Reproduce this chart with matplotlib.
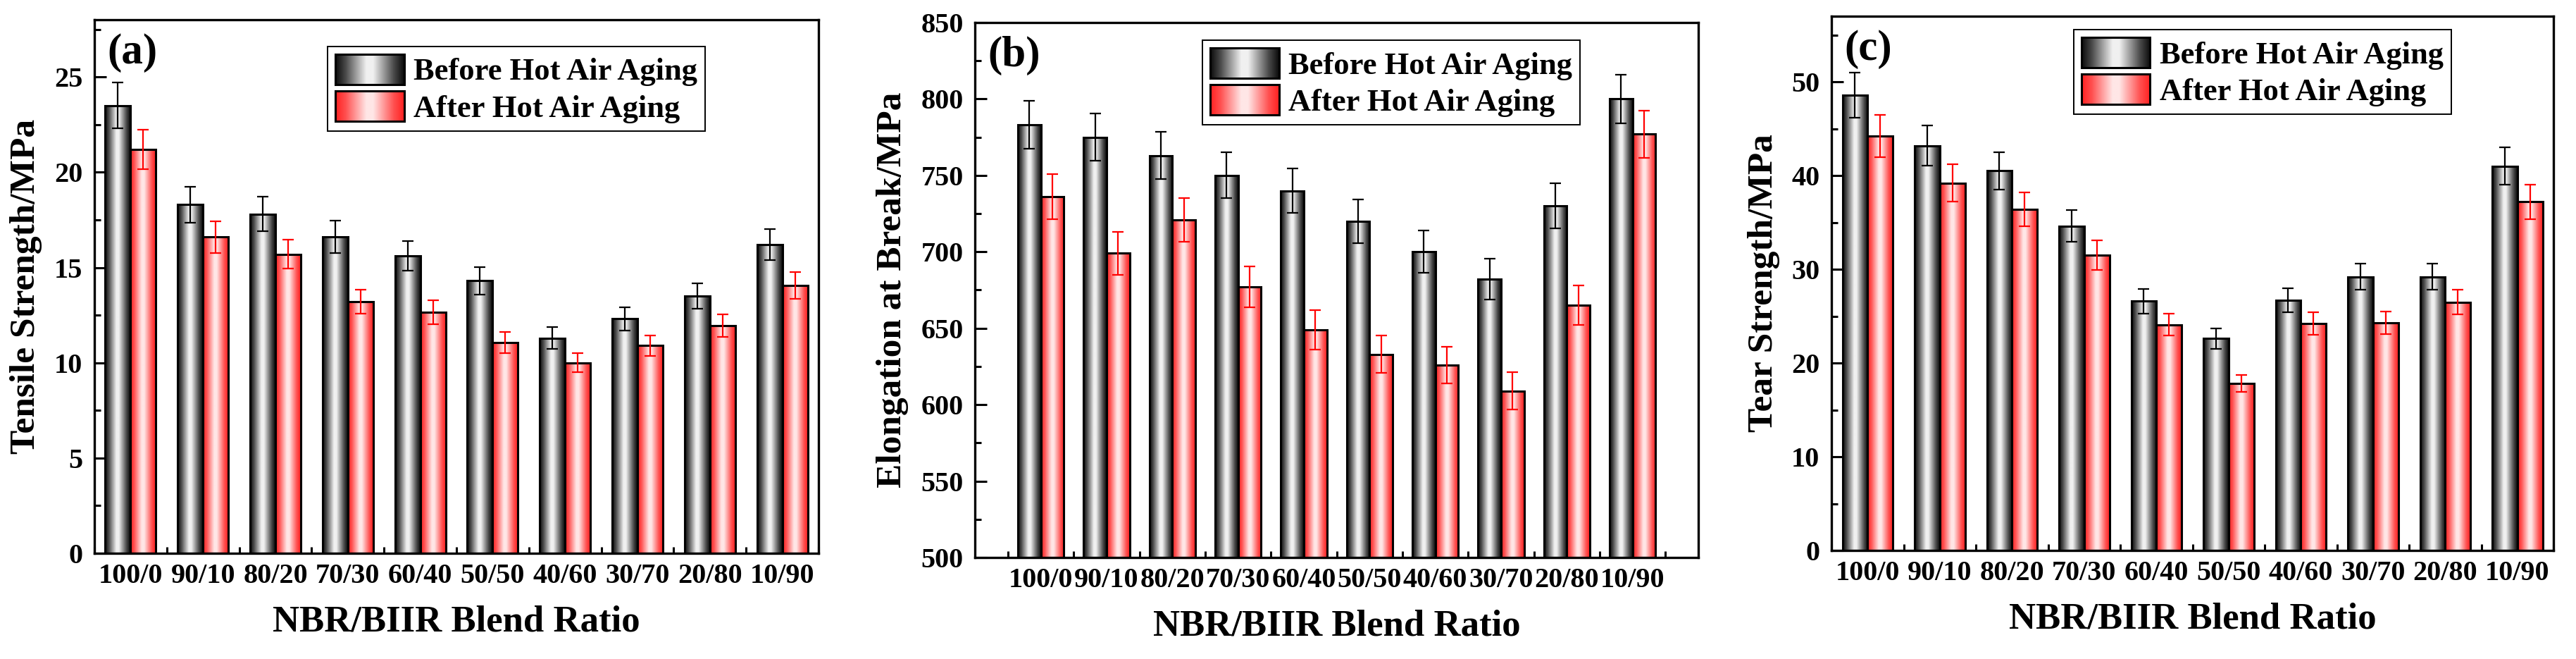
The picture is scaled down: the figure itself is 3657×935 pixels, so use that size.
import numpy as np
import matplotlib
matplotlib.use('Agg')
import matplotlib.pyplot as plt
from matplotlib.colors import LinearSegmentedColormap
from matplotlib.legend_handler import HandlerBase
from matplotlib.patches import Rectangle
from matplotlib.image import BboxImage
from matplotlib.transforms import Bbox, TransformedBbox
from matplotlib.ticker import MultipleLocator, FixedLocator

# blend ratios (x categories)
ratios = ['100/0', '90/10', '80/20', '70/30', '60/40', '50/50', '40/60', '30/70', '20/80', '10/90']

# (a) tensile strength, MPa
tensile_before = [23.5, 18.3, 17.8, 16.6, 15.6, 14.3, 11.3, 12.3, 13.5, 16.2]
tensile_before_err = [1.2, 0.95, 0.9, 0.85, 0.78, 0.72, 0.57, 0.6, 0.67, 0.8]
tensile_after = [21.2, 16.6, 15.7, 13.2, 12.65, 11.05, 10.0, 10.9, 11.95, 14.05]
tensile_after_err = [1.05, 0.84, 0.77, 0.64, 0.63, 0.55, 0.5, 0.54, 0.58, 0.7]

# (b) elongation at break
elong_before = [783, 775, 763, 750, 740, 720, 700, 682, 730, 800]
elong_before_err = [15.6, 15.4, 15.3, 15.0, 14.6, 14.2, 13.8, 13.3, 14.7, 15.8]
elong_after = [736, 699, 721, 677, 649, 633, 626, 609, 665, 777]
elong_after_err = [14.7, 14.0, 14.3, 13.5, 13.0, 12.3, 12.1, 12.1, 12.9, 15.4]

# (c) tear strength
tear_before = [48.6, 43.2, 40.5, 34.6, 26.6, 22.6, 26.7, 29.2, 29.2, 41.0]
tear_before_err = [2.4, 2.15, 2.0, 1.7, 1.3, 1.1, 1.3, 1.4, 1.4, 2.0]
tear_after = [44.2, 39.2, 36.4, 31.5, 24.1, 17.8, 24.2, 24.3, 26.5, 37.2]
tear_after_err = [2.25, 2.0, 1.8, 1.55, 1.2, 0.9, 1.2, 1.2, 1.3, 1.85]

labels = ['Before Hot Air Aging', 'After Hot Air Aging']

plt.rcParams['font.family'] = ['Liberation Serif', 'DejaVu Serif']
plt.rcParams['font.weight'] = 'bold'
plt.rcParams['axes.labelweight'] = 'bold'

grey_cmap = LinearSegmentedColormap.from_list(
    'grey_bar', [(0, '#0a0a0a'), (0.15, '#4a4a4a'), (0.45, '#f0f0f0'),
                 (0.55, '#f0f0f0'), (0.85, '#4a4a4a'), (1, '#0a0a0a')])
red_cmap = LinearSegmentedColormap.from_list(
    'red_bar', [(0, '#ff2020'), (0.15, '#ff5050'), (0.45, '#ffe6e6'),
                (0.55, '#ffe6e6'), (0.85, '#ff5050'), (1, '#ff2020')])
grad = np.linspace(0, 1, 256).reshape(1, -1)


class GradientHandler(HandlerBase):
    def __init__(self, cmap):
        super().__init__()
        self.cmap = cmap

    def create_artists(self, legend, orig_handle, xdescent, ydescent,
                       width, height, fontsize, trans):
        box = TransformedBbox(Bbox.from_bounds(-xdescent, -ydescent, width, height), trans)
        img = BboxImage(box, cmap=self.cmap, interpolation='bilinear')
        img.set_data(grad)
        edge = Rectangle((-xdescent, -ydescent), width, height, facecolor='none',
                         edgecolor='black', linewidth=2.2, transform=trans)
        return [img, edge]


def fill_gradient(ax, bars, cmap):
    for p in bars:
        x0 = p.get_x()
        ax.imshow(grad, cmap=cmap, extent=[x0, x0 + p.get_width(), p.get_y(), p.get_y() + p.get_height()],
                  aspect='auto', interpolation='bilinear', zorder=2)


def panel(rect, before, before_err, after, after_err, ylim, step, xlim, ylabel, tag, leg_anchor):
    ax = fig.add_axes(rect)
    x = np.arange(len(ratios))
    w = 0.35
    b1 = ax.bar(x - w / 2, before, w, facecolor='none', edgecolor='black', linewidth=2.2, zorder=3)
    b2 = ax.bar(x + w / 2, after, w, facecolor='none', edgecolor='black', linewidth=2.2, zorder=3)
    fill_gradient(ax, b1, grey_cmap)
    fill_gradient(ax, b2, red_cmap)
    ax.errorbar(x - w / 2, before, yerr=before_err, fmt='none', ecolor='black',
                elinewidth=1.6, capsize=6, capthick=1.6, zorder=4)
    ax.errorbar(x + w / 2, after, yerr=after_err, fmt='none', ecolor='red',
                elinewidth=1.6, capsize=6, capthick=1.6, zorder=4)

    ax.set_xlim(*xlim)
    ax.set_ylim(*ylim)
    ax.set_xticks(x)
    ax.set_xticklabels(ratios)
    ax.xaxis.set_minor_locator(FixedLocator(np.arange(-0.5, len(ratios), 1)))
    ax.yaxis.set_major_locator(MultipleLocator(step))
    ax.yaxis.set_minor_locator(MultipleLocator(step / 2))
    ax.tick_params(axis='x', which='major', length=0, pad=10, labelsize=29)
    ax.tick_params(axis='x', which='minor', direction='in', length=6.5, width=2.2)
    ax.tick_params(axis='y', which='major', direction='in', length=12, width=2.2, pad=12, labelsize=29)
    ax.tick_params(axis='y', which='minor', direction='in', length=6.5, width=2.2)
    for s in ax.spines.values():
        s.set_linewidth(2.4)

    ax.set_xlabel('NBR/BIIR Blend Ratio', fontsize=38, labelpad=16)
    ax.set_ylabel(ylabel, fontsize=37, labelpad=12)
    ax.text(0.018, 0.975, tag, transform=ax.transAxes, ha='left', va='top', fontsize=44)

    leg = ax.legend([b1, b2], labels, loc='upper left', bbox_to_anchor=leg_anchor,
                    handler_map={b1: GradientHandler(grey_cmap), b2: GradientHandler(red_cmap)},
                    fontsize=32, handlelength=2.2, handleheight=1.1, handletextpad=0.3,
                    borderpad=0.25, labelspacing=0.15, borderaxespad=0,
                    fancybox=False, framealpha=1, edgecolor='black')
    leg.get_frame().set_linewidth(1.4)
    return ax


fig = plt.figure(figsize=(36.57, 9.35), dpi=100)

panel([0.03664, 0.1604, 0.2811, 0.8096], tensile_before, tensile_before_err,
      tensile_after, tensile_after_err, (0, 28), 5, (-0.5, 9.5),
      'Tensile Strength/MPa', '(a)', (0.322, 0.950))
panel([0.3785, 0.1540, 0.2808, 0.8118], elong_before, elong_before_err,
      elong_after, elong_after_err, (500, 850), 50, (-1, 10),
      'Elongation at Break/MPa', '(b)', (0.3145, 0.967))
panel([0.7110, 0.1647, 0.2803, 0.8107], tear_before, tear_before_err,
      tear_after, tear_after_err, (0, 57), 10, (-0.5, 9.5),
      'Tear Strength/MPa', '(c)', (0.335, 0.975))

fig.savefig('out.png', dpi=100)
